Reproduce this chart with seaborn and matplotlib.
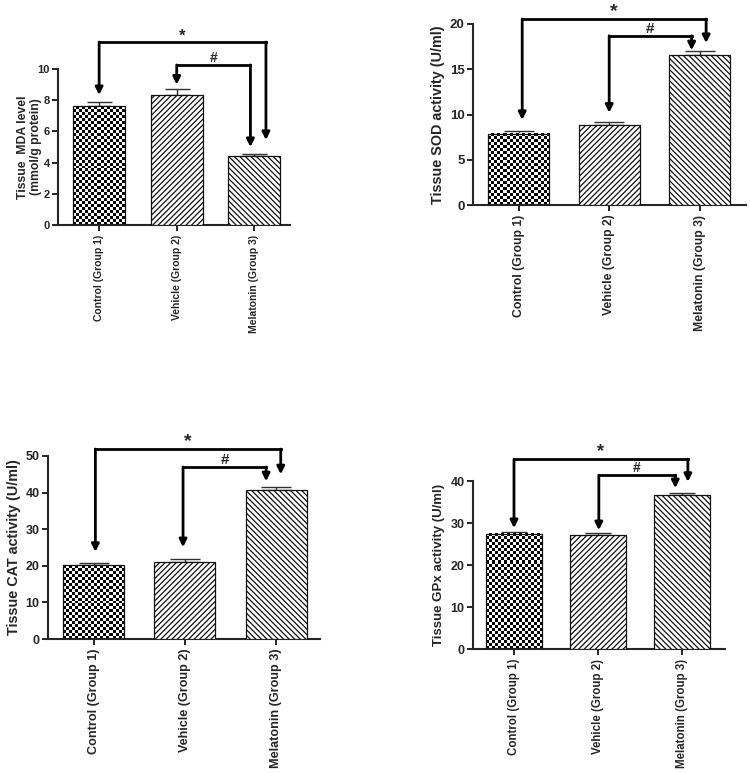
import matplotlib
matplotlib.use("Agg")
import matplotlib.pyplot as plt
import seaborn as sns
import numpy as np
import pandas as pd

# ---------------- data ----------------
groups = ["Control (Group 1)", "Vehicle (Group 2)", "Melatonin (Group 3)"]

mda_mean = [7.6, 8.35, 4.4]
mda_sem = [0.3, 0.35, 0.15]
sod_mean = [7.9, 8.8, 16.6]
sod_sem = [0.3, 0.4, 0.4]
cat_mean = [20.2, 21.0, 40.8]
cat_sem = [0.7, 0.8, 0.7]
gpx_mean = [27.4, 27.1, 36.7]
gpx_sem = [0.4, 0.5, 0.5]

ylabels = ["Tissue  MDA level\n(mmol/g protein)",
           "Tissue SOD activity (U/ml)",
           "Tissue CAT activity (U/ml)",
           "Tissue GPx activity (U/ml)"]
yticks_mda = [0, 2, 4, 6, 8, 10]
yticks_sod = [0, 5, 10, 15, 20]
yticks_cat = [0, 10, 20, 30, 40, 50]
yticks_gpx = [0, 10, 20, 30, 40]

# significance brackets: (bracket level, left arrow tip, right arrow tip)
star_mda = (11.73, 8.33, 5.45)
hash_mda = (10.26, 9.0, 5.0)
star_sod = (20.55, 9.4, 17.9)
hash_sod = (18.7, 10.2, 17.1)
star_cat = (51.9, 23.8, 45.0)
hash_cat = (47.0, 25.1, 43.1)
star_gpx = (45.2, 28.8, 39.8)
hash_gpx = (41.4, 28.3, 38.3)

# ---------------- style ----------------
sns.set_style("ticks")
plt.rcParams["font.family"] = ["Liberation Sans", "DejaVu Sans"]
plt.rcParams["font.weight"] = "bold"
plt.rcParams["hatch.linewidth"] = 0.9
plt.rcParams["hatch.color"] = "#222222"

W, H = 750, 773
fig = plt.figure(figsize=(7.5, 7.73), dpi=100)

panels = [
    dict(mean=mda_mean, sem=mda_sem, ylabel=ylabels[0], yticks=yticks_mda,
         star=star_mda, hsh=hash_mda,
         px=(58, 225, 290, 69), xlim=(-0.53, 2.46), width=0.67,
         tick_fs=8.0, xt_fs=7.5, yl_fs=8.8, lab_x=-0.069, cap=18,
         star_off=(0.0, 0.15), hash_off=(0.0, -0.05), star_fs=12, hash_fs=10),
    dict(mean=sod_mean, sem=sod_sem, ylabel=ylabels[1], yticks=yticks_sod,
         star=star_sod, hsh=hash_sod,
         px=(473, 205, 746, 24), xlim=(-0.503, 2.51), width=0.674,
         tick_fs=9.5, xt_fs=8.8, yl_fs=10.4, lab_x=-0.103, cap=21,
         star_off=(0.04, 0.07), hash_off=(0.0, -0.09), star_fs=14, hash_fs=11),
    dict(mean=cat_mean, sem=cat_sem, ylabel=ylabels[2], yticks=yticks_cat,
         star=star_cat, hsh=hash_cat,
         px=(48, 639, 320, 456), xlim=(-0.499, 2.48), width=0.67,
         tick_fs=9.0, xt_fs=9.1, yl_fs=10.4, lab_x=-0.099, cap=21,
         star_off=(0.02, 0.05), hash_off=(-0.02, -0.11), star_fs=14, hash_fs=11),
    dict(mean=gpx_mean, sem=gpx_sem, ylabel=ylabels[3], yticks=yticks_gpx,
         star=star_gpx, hsh=hash_gpx,
         px=(473, 649, 725, 481), xlim=(-0.488, 2.512), width=0.667,
         tick_fs=9.0, xt_fs=8.3, yl_fs=9.5, lab_x=-0.111, cap=19,
         star_off=(0.0, 0.07), hash_off=(0.01, -0.08), star_fs=13, hash_fs=10),
]


def add_checker(ax, patch, sq_px=3.0):
    bb = patch.get_window_extent()
    ncols = max(1, int(round(bb.width / sq_px)))
    nrows = max(1, int(round(bb.height / sq_px)))
    img = np.indices((nrows, ncols)).sum(axis=0) % 2
    x0, y0 = patch.get_x(), patch.get_y()
    w, h = patch.get_width(), patch.get_height()
    ax.imshow(img, cmap="gray", vmin=0, vmax=1, origin="lower",
              extent=[x0, x0 + w, y0, y0 + h], interpolation="nearest",
              aspect="auto", zorder=2.5)


def bracket(ax, x1, x2, spec, text, fs, text_y_off):
    level, tip1, tip2 = spec
    ax.plot([x1, x2], [level, level], color="black", lw=2.0,
            solid_capstyle="projecting", clip_on=False, zorder=5)
    for x, tip in ((x1, tip1), (x2, tip2)):
        ax.annotate("", xy=(x, tip), xytext=(x, level),
                    arrowprops=dict(arrowstyle="-|>", lw=2.0, color="black",
                                    mutation_scale=11, shrinkA=0, shrinkB=0),
                    annotation_clip=False, zorder=5)
    ax.annotate(text, xy=((x1 + x2) / 2, level), xytext=(0, text_y_off),
                textcoords="offset points", ha="center", va="bottom",
                fontsize=fs, fontweight="bold", annotation_clip=False)


for p in panels:
    l, b, r, t = p["px"]
    ax = fig.add_axes([l / W, (H - b) / H, (r - l) / W, (b - t) / H])
    df = pd.DataFrame({"group": groups, "value": p["mean"]})
    sns.barplot(data=df, x="group", y="value", order=groups, width=p["width"],
                errorbar=None, color="white", saturation=1,
                edgecolor="#111111", linewidth=0.9, ax=ax, zorder=3)
    ax.set_xlim(*p["xlim"])
    ax.set_ylim(0, p["yticks"][-1])
    ax.set_yticks(p["yticks"])

    bars = ax.patches[:3]
    centers = [bar.get_x() + bar.get_width() / 2 for bar in bars]
    for i, bar in enumerate(bars):
        bar.set_zorder(3)
        if i == 0:
            bar.set_facecolor("none")
            add_checker(ax, bar)
        elif i == 1:
            bar.set_facecolor("white")
            bar.set_hatch("//////")
        else:
            bar.set_facecolor("white")
            bar.set_hatch("\\\\\\\\\\\\")
    ax.set_xlim(*p["xlim"])
    ax.set_ylim(0, p["yticks"][-1])

    ax.errorbar(centers, p["mean"], yerr=[[0, 0, 0], p["sem"]], fmt="none",
                ecolor="#333333", elinewidth=1.0, capsize=p["cap"] / 2,
                capthick=1.0, zorder=2)

    sns.despine(ax=ax)
    ax.spines["left"].set_linewidth(1.5)
    ax.spines["bottom"].set_linewidth(1.5)
    ax.tick_params(axis="both", direction="out", length=4, width=1.4,
                   labelsize=p["tick_fs"], pad=2)
    ax.tick_params(axis="x", labelsize=p["xt_fs"], pad=3)
    ax.set_xticks(range(3))
    ax.set_xticklabels(groups, rotation=90, fontweight="bold")
    for lab in ax.get_yticklabels():
        lab.set_fontweight("bold")
    ax.set_xlabel("")
    ax.set_ylabel(p["ylabel"], fontsize=p["yl_fs"], fontweight="bold",
                  linespacing=1.1)
    ax.yaxis.set_label_coords(p["lab_x"], 0.5)

    s1, s2 = p["star_off"]
    h1, h2 = p["hash_off"]
    bracket(ax, 0 + s1, 2 + s2, p["star"], "*", p["star_fs"], -1)
    bracket(ax, 1 + h1, 2 + h2, p["hsh"], "#", p["hash_fs"], 0)

fig.savefig("out.png", dpi=100)
